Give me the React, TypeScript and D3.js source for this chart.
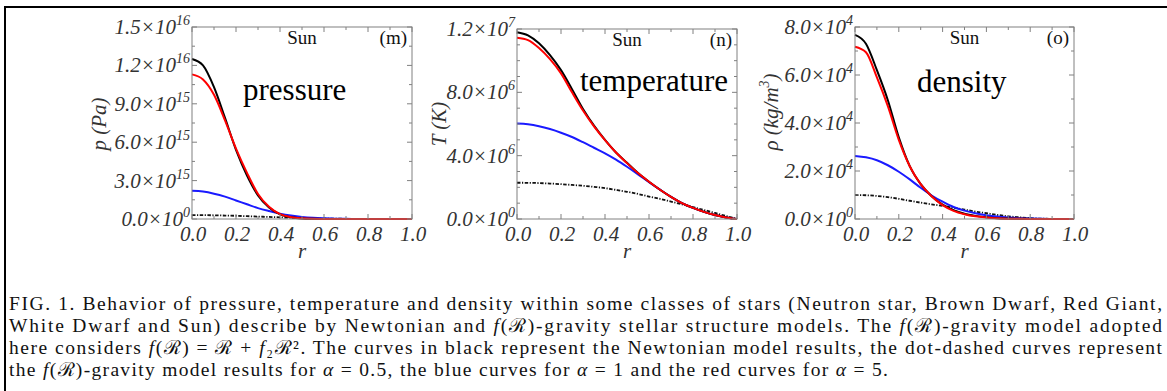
import React from "react";
import * as d3 from "d3";

// radius grid (r / R)
const rGrid = [0, 0.05, 0.1, 0.15, 0.2, 0.25, 0.3, 0.35, 0.4, 0.45, 0.5, 0.55, 0.6, 0.65, 0.7, 0.75, 0.8, 0.85, 0.9, 0.95, 1.0];

// pressure, units of 1e15 Pa
const pressureNewton = [12.5, 12.0, 10.3, 7.9, 5.4, 3.4, 1.85, 0.9, 0.36, 0.13, 0.04, 0.012, 0.003, 0, 0, 0, 0, 0, 0, 0, 0];
const pressureA05 = [0.31, 0.305, 0.29, 0.27, 0.25, 0.22, 0.19, 0.16, 0.13, 0.1, 0.075, 0.055, 0.038, 0.025, 0.015, 0.008, 0.004, 0.002, 0.001, 0, 0];
const pressureA1 = [2.2, 2.14, 1.98, 1.75, 1.45, 1.15, 0.85, 0.62, 0.42, 0.27, 0.16, 0.09, 0.05, 0.025, 0.01, 0.004, 0, 0, 0, 0, 0];
const pressureA5 = [11.3, 10.9, 9.7, 7.7, 5.5, 3.6, 1.95, 0.95, 0.38, 0.14, 0.05, 0.015, 0.004, 0, 0, 0, 0, 0, 0, 0, 0];

// temperature, units of 1e6 K
const tempNewton = [11.8, 11.6, 11.1, 10.35, 9.4, 8.2, 6.95, 5.9, 5.0, 4.2, 3.55, 2.9, 2.35, 1.85, 1.4, 1.0, 0.7, 0.45, 0.25, 0.1, 0];
const tempA05 = [2.29, 2.285, 2.27, 2.24, 2.2, 2.15, 2.1, 2.03, 1.95, 1.84, 1.72, 1.58, 1.42, 1.27, 1.1, 0.93, 0.75, 0.57, 0.38, 0.19, 0];
const tempA1 = [6.03, 5.98, 5.86, 5.68, 5.45, 5.18, 4.85, 4.5, 4.15, 3.75, 3.3, 2.82, 2.32, 1.85, 1.4, 1.0, 0.7, 0.45, 0.25, 0.1, 0];
const tempA5 = [11.45, 11.3, 10.8, 10.1, 9.2, 8.0, 6.85, 5.85, 4.98, 4.2, 3.53, 2.9, 2.35, 1.85, 1.4, 1.0, 0.7, 0.45, 0.25, 0.1, 0];

// density, units of 1e4 kg/m^3
const densNewton = [7.67, 7.3, 6.2, 4.95, 3.4, 2.2, 1.45, 0.95, 0.6, 0.37, 0.22, 0.13, 0.07, 0.035, 0.02, 0.01, 0.005, 0, 0, 0, 0];
const densA05 = [1.0, 0.99, 0.96, 0.91, 0.84, 0.76, 0.68, 0.61, 0.55, 0.47, 0.39, 0.31, 0.24, 0.17, 0.11, 0.07, 0.035, 0.015, 0.005, 0, 0];
const densA1 = [2.63, 2.57, 2.45, 2.24, 1.97, 1.65, 1.3, 0.98, 0.72, 0.5, 0.35, 0.24, 0.16, 0.1, 0.06, 0.035, 0.018, 0.008, 0.003, 0, 0];
const densA5 = [7.18, 6.95, 5.9, 4.7, 3.3, 2.2, 1.45, 0.95, 0.58, 0.34, 0.2, 0.11, 0.06, 0.03, 0.015, 0.007, 0.003, 0, 0, 0, 0];

const xTicks = [0, 0.2, 0.4, 0.6, 0.8, 1.0];
const xTickLabels = ["0.0", "0.2", "0.4", "0.6", "0.8", "1.0"];

const pressureTicks = [0, 3, 6, 9, 12, 15];
const pressureMant = ["0.0", "3.0", "6.0", "9.0", "1.2", "1.5"];
const pressureExp = ["0", "15", "15", "15", "16", "16"];

const tempTicks = [0, 4, 8, 12];
const tempMant = ["0.0", "4.0", "8.0", "1.2"];
const tempExp = ["0", "6", "6", "7"];

const densTicks = [0, 2, 4, 6, 8];
const densMant = ["0.0", "2.0", "4.0", "6.0", "8.0"];
const densExp = ["0", "4", "4", "4", "4"];

const serif = "'Liberation Serif', 'Times New Roman', serif";

const panels = [
  {
    left: 192, right: 412, top: 27, bottom: 219, yMax: 15, minor: 1.5,
    ticks: pressureTicks, mant: pressureMant, exp: pressureExp,
    series: [pressureA05, pressureA1, pressureNewton, pressureA5],
    tag: "(m)", word: "pressure", wordX: 243, wordY: 100,
    ylab: "p (Pa)", ylabX: 106, ylabY: 124,
  },
  {
    left: 517, right: 737, top: 29, bottom: 219, yMax: 12, minor: 1,
    ticks: tempTicks, mant: tempMant, exp: tempExp,
    series: [tempA05, tempA1, tempNewton, tempA5],
    tag: "(n)", word: "temperature", wordX: 580, wordY: 91,
    ylab: "T (K)", ylabX: 446, ylabY: 124,
  },
  {
    left: 855, right: 1074, top: 27, bottom: 219, yMax: 8, minor: 1,
    ticks: densTicks, mant: densMant, exp: densExp,
    series: [densA05, densA1, densNewton, densA5],
    tag: "(o)", word: "density", wordX: 917, wordY: 92,
    ylab: "rho", ylabX: 778, ylabY: 112,
  },
];

const seriesStyle = [
  { stroke: "#111", width: 1.8, dash: "3.5,1.5,1.2,1.5" },
  { stroke: "#1a1aff", width: 2 },
  { stroke: "#000", width: 2 },
  { stroke: "#ff0000", width: 2 },
];

function Panel({ p }: { p: any }) {
  const x = d3.scaleLinear().domain([0, 1]).range([p.left, p.right]);
  const y = d3.scaleLinear().domain([0, p.yMax]).range([p.bottom, p.top]);
  const line = d3
    .line<number>()
    .x((_, i) => x(rGrid[i]))
    .y((d) => y(d))
    .curve(d3.curveMonotoneX);

  const xMinor = d3.range(0, 1.0001, 0.1);
  const yMinor = d3.range(0, p.yMax + 0.0001, p.minor);
  const isMajorX = (v: number) => Math.abs(v * 5 - Math.round(v * 5)) < 1e-6;
  const isMajorY = (v: number) => p.ticks.some((t: number) => Math.abs(t - v) < 1e-6);
  const cx = (p.left + p.right) / 2;

  return (
    <g>
      {p.series.map((s: number[], i: number) => (
        <path
          key={i}
          d={line(s) || ""}
          fill="none"
          stroke={seriesStyle[i].stroke}
          strokeWidth={seriesStyle[i].width}
          strokeDasharray={seriesStyle[i].dash}
          strokeLinejoin="round"
        />
      ))}
      <rect x={p.left} y={p.top} width={p.right - p.left} height={p.bottom - p.top} fill="none" stroke="#808080" strokeWidth={1} />
      {xMinor.map((v, i) => {
        const len = isMajorX(v) ? 5 : 3;
        return (
          <g key={"xt" + i} stroke="#808080" strokeWidth={1}>
            <line x1={x(v)} x2={x(v)} y1={p.bottom} y2={p.bottom - len} />
            <line x1={x(v)} x2={x(v)} y1={p.top} y2={p.top + len} />
          </g>
        );
      })}
      {yMinor.map((v, i) => {
        const len = isMajorY(v) ? 5 : 3;
        return (
          <g key={"yt" + i} stroke="#808080" strokeWidth={1}>
            <line x1={p.left} x2={p.left + len} y1={y(v)} y2={y(v)} />
            <line x1={p.right} x2={p.right - len} y1={y(v)} y2={y(v)} />
          </g>
        );
      })}
      {xTicks.map((v, i) => (
        <text key={"xl" + i} x={x(v) + 1} y={241} textAnchor="middle" fontFamily={serif} fontStyle="italic" fontSize={21} fill="#333">
          {xTickLabels[i]}
        </text>
      ))}
      {p.ticks.map((v: number, i: number) => (
        <text key={"yl" + i} x={p.left - 2} y={y(v) + 7} textAnchor="end" fontFamily={serif} fontStyle="italic" fontSize={21} fill="#333">
          {p.mant[i] + "×10"}
          <tspan fontSize={14} dy={-9}>{p.exp[i]}</tspan>
        </text>
      ))}
      <text x={cx} y={258} textAnchor="middle" fontFamily={serif} fontStyle="italic" fontSize={21} fill="#333">r</text>
      <text
        transform={`translate(${p.ylabX},${p.ylabY}) rotate(-90)`}
        textAnchor="middle"
        fontFamily={serif}
        fontStyle="italic"
        fontSize={21}
        fill="#333"
      >
        {p.ylab === "rho" ? (
          <>
            {"ρ (kg/m"}
            <tspan fontSize={14} dy={-9}>3</tspan>
            <tspan dy={9}>)</tspan>
          </>
        ) : (
          p.ylab
        )}
      </text>
      <text x={cx} y={p.top + 17} textAnchor="middle" fontFamily={serif} fontSize={19} fill="#111">Sun</text>
      <text x={p.right - 5} y={p.top + 17} textAnchor="end" fontFamily={serif} fontSize={19} fill="#111">{p.tag}</text>
      <text x={p.wordX} y={p.wordY} fontFamily={serif} fontSize={31} fill="#000">{p.word}</text>
    </g>
  );
}

const capFont = "'Liberation Serif', 'DejaVu Serif', serif";
const I = ({ children }: { children: React.ReactNode }) => <tspan fontStyle="italic">{children}</tspan>;

export default function App() {
  const capX = 9;
  const capW = 1153;
  const lines = [310, 332, 354, 376];
  return (
    <svg width={1167} height={391} style={{ position: "absolute", left: 0, top: 0, background: "#fff" }}>
      <rect width={1167} height={391} fill="#fff" />
      <line x1={5} x2={1167} y1={7} y2={7} stroke="#000" strokeWidth={2} />
      <line x1={5} x2={5} y1={6} y2={391} stroke="#000" strokeWidth={2} />
      {panels.map((p, i) => (
        <Panel key={i} p={p} />
      ))}
      <g fontFamily={capFont} fontSize={19.5} fill="#111">
        <text x={capX} y={lines[0]} textLength={capW} lengthAdjust="spacing">
          FIG. 1. Behavior of pressure, temperature and density within some classes of stars (Neutron star, Brown Dwarf, Red Giant,
        </text>
        <text x={capX} y={lines[1]} textLength={capW} lengthAdjust="spacing">
          White Dwarf and Sun) describe by Newtonian and <I>f</I>(ℛ)-gravity stellar structure models. The <I>f</I>(ℛ)-gravity model adopted
        </text>
        <text x={capX} y={lines[2]} textLength={capW} lengthAdjust="spacing">
          here considers <I>f</I>(ℛ) = ℛ + <I>f</I>₂ℛ². The curves in black represent the Newtonian model results, the dot-dashed curves represent
        </text>
        <text x={capX} y={lines[3]} textLength={879} lengthAdjust="spacing">
          the <I>f</I>(ℛ)-gravity model results for <I>α</I> = 0.5, the blue curves for <I>α</I> = 1 and the red curves for <I>α</I> = 5.
        </text>
      </g>
    </svg>
  );
}
